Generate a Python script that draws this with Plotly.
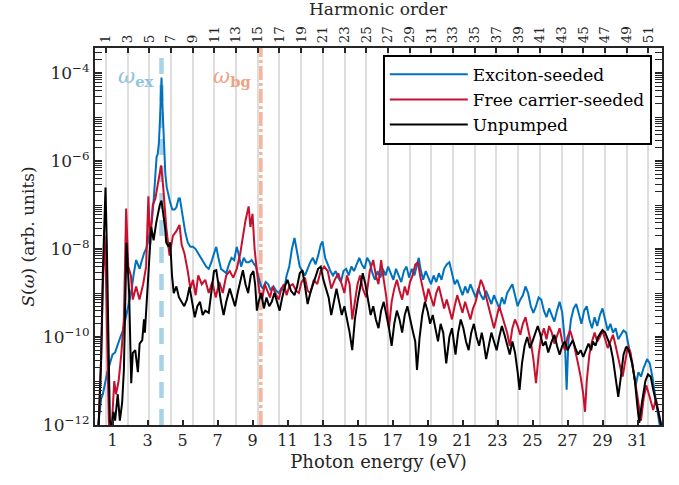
import plotly.graph_objects as go

# ---------------- data (photon energy in eV, log10 of S(omega)) ----------------
exc_E = [0.15,0.25,0.35,0.45,0.55,0.7,0.85,1.0,1.15,1.3,1.45,1.6,1.75,1.9,2.0,2.1,2.2,2.35,2.45,2.55,2.65,2.8,2.92,3.05,3.15,3.25,3.35,3.45,3.52,3.58,3.65,3.72,3.8,3.87,3.95,4.02,4.1,4.2,4.3,4.42,4.55,4.65,4.78,4.85,4.95,5.05,5.15,5.3,5.45,5.6,5.75,5.9,6.05,6.2,6.35,6.5,6.65,6.8,6.93,7.05,7.2,7.35,7.5,7.65,7.8,7.95,8.1,8.2,8.35,8.5,8.65,8.8,8.95,9.1,9.2,9.35,9.5,9.6,9.75,9.9,10.05,10.2,10.35,10.5,10.65,10.8,10.95,11.1,11.25,11.4,11.55,11.7,11.85,12.0,12.15,12.3,12.45,12.6,12.75,12.9,13.0,13.15,13.3,13.45,13.6,13.75,13.9,14.05,14.2,14.35,14.5,14.65,14.8,14.95,15.1,15.25,15.4,15.55,15.7,15.85,16.0,16.15,16.3,16.45,16.6,16.75,16.9,17.05,17.2,17.35,17.5,17.65,17.8,17.95,18.1,18.25,18.4,18.5,18.6,18.75,18.9,19.05,19.2,19.35,19.5,19.65,19.8,19.95,20.1,20.25,20.4,20.55,20.7,20.85,21.0,21.15,21.3,21.45,21.6,21.75,21.9,22.05,22.2,22.35,22.5,22.65,22.8,22.95,23.1,23.25,23.4,23.55,23.7,23.85,24.0,24.15,24.3,24.45,24.6,24.75,24.9,25.05,25.2,25.35,25.5,25.65,25.8,25.95,26.1,26.25,26.4,26.55,26.7,26.85,26.95,27.05,27.2,27.35,27.5,27.65,27.8,27.95,28.1,28.25,28.4,28.55,28.7,28.85,29.0,29.15,29.3,29.45,29.6,29.75,29.9,30.05,30.2,30.35,30.5,30.65,30.8,30.9,31.05,31.2,31.35,31.55,31.7,31.85,32.0,32.15,32.3]
exc_logS = [-12.1,-11.8,-11.4,-11.3,-11.1,-10.8,-10.6,-10.4,-10.35,-10.15,-10.0,-9.85,-9.6,-9.3,-9.1,-8.9,-8.6,-8.25,-8.35,-8.45,-8.3,-8.1,-8.0,-7.8,-7.55,-7.35,-6.9,-6.3,-5.9,-5.85,-5.6,-5.0,-4.1,-4.9,-5.9,-6.3,-6.6,-6.8,-6.95,-7.1,-7.1,-7.05,-6.85,-6.85,-7.1,-7.4,-7.6,-7.85,-7.95,-7.95,-8.0,-8.1,-8.2,-8.3,-8.4,-8.45,-8.3,-8.1,-7.95,-8.2,-8.45,-8.5,-8.55,-8.35,-8.2,-8.25,-7.95,-8.1,-8.4,-8.2,-8.3,-8.3,-8.25,-8.35,-8.4,-8.65,-8.85,-8.9,-8.75,-8.8,-8.95,-8.85,-8.95,-9.0,-8.9,-8.95,-8.6,-8.4,-8.0,-7.75,-8.1,-8.4,-8.5,-8.6,-8.45,-8.3,-8.2,-8.35,-8.15,-7.9,-7.83,-8.2,-8.35,-8.5,-8.6,-8.5,-8.65,-8.75,-8.5,-8.45,-8.6,-8.4,-8.5,-8.35,-8.2,-8.35,-8.45,-8.2,-8.3,-8.55,-8.7,-8.5,-8.65,-8.45,-8.6,-8.4,-8.55,-8.7,-8.45,-8.6,-8.75,-8.5,-8.4,-8.65,-8.45,-8.6,-8.35,-8.2,-8.45,-8.7,-8.5,-8.65,-8.8,-8.6,-8.75,-8.55,-8.7,-8.45,-8.35,-8.3,-8.55,-8.8,-8.7,-8.9,-9.05,-8.85,-9.0,-8.8,-8.95,-9.1,-8.9,-9.05,-9.15,-8.95,-9.1,-9.25,-9.05,-9.2,-9.35,-9.1,-9.25,-9.0,-8.9,-8.8,-9.05,-9.3,-9.15,-9.05,-8.85,-9.0,-9.3,-9.45,-9.3,-9.1,-9.15,-9.4,-9.55,-9.35,-9.5,-9.65,-9.4,-9.2,-9.45,-10.1,-11.2,-10.1,-9.6,-9.35,-9.25,-9.5,-9.7,-9.4,-9.3,-9.6,-9.8,-9.55,-9.75,-9.5,-9.35,-9.6,-9.85,-9.7,-9.9,-9.8,-10.05,-9.95,-9.85,-9.9,-10.2,-10.5,-10.85,-11.1,-10.8,-10.9,-10.7,-10.5,-10.6,-10.9,-11.3,-11.7,-12.1]

free_E = [0.2,0.35,0.45,0.55,0.62,0.7,0.8,0.95,1.1,1.2,1.35,1.5,1.65,1.78,1.9,2.05,2.16,2.35,2.54,2.75,2.92,3.05,3.15,3.3,3.45,3.6,3.78,3.9,4.07,4.26,4.45,4.64,4.83,4.95,5.11,5.3,5.45,5.6,5.75,5.9,6.1,6.3,6.5,6.7,6.9,7.1,7.3,7.5,7.7,7.9,8.1,8.3,8.45,8.6,8.78,8.88,9.0,9.12,9.25,9.4,9.55,9.7,9.85,10.0,10.15,10.3,10.5,10.65,10.8,10.95,11.1,11.3,11.5,11.65,11.8,12.0,12.15,12.3,12.5,12.7,12.9,13.1,13.3,13.5,13.7,13.9,14.1,14.25,14.4,14.55,14.7,14.85,15.0,15.15,15.3,15.5,15.7,15.9,16.05,16.2,16.35,16.5,16.65,16.8,16.95,17.1,17.25,17.4,17.55,17.7,17.85,18.0,18.15,18.3,18.45,18.6,18.75,18.9,19.05,19.2,19.35,19.5,19.65,19.8,19.95,20.1,20.25,20.4,20.55,20.7,20.85,21.0,21.15,21.3,21.45,21.6,21.75,21.9,22.05,22.2,22.35,22.5,22.65,22.8,22.95,23.1,23.25,23.4,23.55,23.7,23.85,24.0,24.15,24.3,24.45,24.6,24.75,24.9,25.05,25.2,25.35,25.5,25.65,25.8,25.95,26.1,26.25,26.4,26.55,26.7,26.85,27.0,27.15,27.3,27.45,27.6,27.75,27.9,28.0,28.1,28.25,28.4,28.55,28.7,28.85,29.0,29.15,29.3,29.45,29.6,29.75,29.9,30.05,30.15,30.3,30.45,30.6,30.75,30.9,31.05,31.2,31.35,31.5,31.65,31.8,31.9,32.05,32.2,32.35]
free_logS = [-12.1,-10.5,-8.8,-7.7,-8.5,-10.5,-12.1,-12.1,-11.0,-11.3,-11.0,-10.4,-9.6,-7.08,-8.4,-8.6,-9.15,-8.85,-9.15,-8.8,-8.4,-6.8,-7.9,-7.0,-6.85,-6.5,-6.1,-6.6,-7.5,-8.15,-7.7,-7.6,-7.45,-7.9,-8.1,-8.5,-8.9,-8.7,-9.05,-8.6,-8.8,-8.7,-9.0,-8.75,-9.1,-8.75,-9.0,-8.6,-8.5,-8.65,-8.45,-8.1,-7.7,-7.35,-7.03,-7.5,-7.2,-8.0,-8.5,-9.0,-9.15,-8.8,-8.95,-9.1,-8.85,-9.0,-9.15,-8.9,-8.8,-9.05,-8.85,-8.8,-8.95,-9.0,-8.75,-8.65,-8.95,-9.0,-8.7,-8.8,-8.5,-8.4,-8.5,-8.9,-8.7,-8.55,-8.8,-9.0,-8.6,-8.8,-9.6,-9.2,-8.8,-8.6,-8.9,-9.1,-8.5,-8.25,-8.6,-8.8,-8.25,-8.7,-9.1,-9.8,-9.2,-8.9,-8.7,-8.95,-9.15,-8.85,-9.05,-8.75,-8.6,-8.35,-8.3,-8.65,-8.95,-9.2,-8.9,-9.1,-9.3,-9.0,-8.85,-9.1,-9.35,-9.15,-9.4,-9.6,-9.3,-9.05,-9.25,-9.45,-9.2,-9.4,-9.6,-9.35,-9.2,-8.95,-8.7,-8.85,-9.1,-9.35,-9.55,-9.8,-9.55,-9.3,-9.5,-9.7,-9.9,-10.2,-9.8,-9.6,-9.75,-9.95,-9.7,-9.55,-9.8,-10.1,-10.5,-11.05,-10.4,-10.0,-9.8,-10.05,-9.75,-9.9,-10.15,-9.95,-9.8,-10.1,-10.3,-10.0,-9.85,-10.05,-10.3,-10.6,-10.9,-11.3,-11.7,-11.0,-10.4,-10.1,-9.9,-10.1,-10.0,-9.85,-10.05,-10.25,-10.1,-9.95,-10.2,-10.5,-10.75,-10.9,-10.5,-10.2,-10.35,-10.7,-11.1,-11.5,-11.9,-11.4,-11.1,-11.3,-11.55,-11.66,-11.4,-11.7,-12.0]

unp_E = [0.2,0.35,0.45,0.55,0.6,0.67,0.75,0.85,0.95,1.05,1.15,1.3,1.42,1.55,1.65,1.8,1.95,2.07,2.16,2.3,2.45,2.55,2.7,2.8,2.85,2.95,3.05,3.15,3.21,3.35,3.5,3.6,3.7,3.8,3.9,4.0,4.07,4.2,4.3,4.4,4.5,4.65,4.8,4.95,5.1,5.25,5.4,5.55,5.7,5.85,6.0,6.15,6.3,6.5,6.65,6.8,6.93,7.05,7.2,7.35,7.5,7.7,7.85,8.0,8.15,8.3,8.45,8.6,8.75,8.9,9.05,9.15,9.25,9.35,9.5,9.65,9.8,9.95,10.1,10.25,10.4,10.55,10.7,10.85,11.0,11.2,11.4,11.55,11.7,11.85,12.0,12.15,12.3,12.45,12.6,12.75,12.9,13.05,13.2,13.35,13.5,13.65,13.8,13.95,14.1,14.25,14.4,14.55,14.7,14.85,15.0,15.15,15.3,15.45,15.6,15.75,15.9,16.05,16.2,16.35,16.5,16.65,16.8,16.95,17.1,17.25,17.4,17.55,17.7,17.85,18.0,18.15,18.3,18.4,18.55,18.7,18.85,19.0,19.15,19.3,19.45,19.6,19.75,19.9,20.07,20.25,20.4,20.6,20.75,20.9,21.05,21.2,21.35,21.5,21.65,21.8,21.95,22.1,22.2,22.35,22.5,22.65,22.8,22.95,23.1,23.25,23.4,23.55,23.7,23.85,24.0,24.15,24.26,24.4,24.55,24.7,24.85,25.0,25.15,25.3,25.45,25.6,25.75,25.9,26.1,26.25,26.4,26.55,26.7,26.85,27.0,27.15,27.3,27.45,27.6,27.75,27.9,28.05,28.2,28.35,28.45,28.6,28.75,28.9,29.0,29.15,29.3,29.45,29.6,29.75,29.9,30.05,30.2,30.35,30.5,30.7,30.85,31.0,31.1,31.25,31.45,31.6,31.75,31.9,32.05,32.2,32.35]
unp_logS = [-12.1,-10.5,-8.5,-7.0,-6.6,-7.8,-10.0,-11.9,-12.1,-11.7,-11.9,-11.3,-11.9,-11.5,-10.75,-7.86,-9.0,-11.05,-10.36,-10.3,-10.8,-10.15,-10.07,-9.6,-9.9,-9.2,-8.3,-7.9,-7.5,-7.8,-7.4,-7.2,-7.0,-6.9,-7.2,-7.5,-7.85,-7.95,-7.85,-8.6,-9.0,-8.85,-9.1,-9.2,-9.3,-9.15,-8.86,-9.2,-9.55,-9.3,-9.2,-9.5,-9.4,-9.45,-9.0,-8.5,-8.48,-8.85,-9.2,-9.5,-9.2,-8.9,-9.1,-9.3,-9.0,-8.7,-8.48,-8.8,-9.0,-8.6,-8.5,-8.8,-9.4,-9.2,-9.0,-9.35,-9.1,-9.3,-9.2,-9.0,-9.2,-9.4,-9.1,-8.85,-8.7,-8.95,-9.05,-8.85,-8.55,-8.48,-8.85,-9.25,-9.0,-8.8,-8.6,-8.45,-8.4,-8.7,-8.9,-9.1,-9.5,-9.2,-8.9,-9.2,-9.5,-9.3,-9.6,-9.9,-10.3,-9.6,-9.2,-8.9,-8.55,-8.8,-9.2,-9.5,-9.3,-9.6,-9.8,-9.4,-9.2,-9.5,-9.8,-10.2,-9.7,-9.4,-9.6,-9.9,-9.5,-9.3,-9.6,-9.85,-10.1,-10.75,-10.0,-9.5,-9.2,-9.4,-9.7,-9.5,-9.8,-10.1,-9.7,-9.9,-10.6,-10.0,-9.8,-10.4,-9.9,-9.6,-9.8,-10.1,-10.3,-9.9,-9.7,-10.0,-10.2,-9.9,-10.1,-10.5,-10.2,-9.9,-10.1,-10.3,-10.0,-9.75,-9.95,-10.2,-10.4,-10.1,-10.35,-10.8,-11.2,-10.6,-10.2,-10.0,-10.25,-10.1,-9.9,-9.75,-9.95,-10.2,-10.1,-10.35,-10.1,-9.95,-10.2,-10.4,-10.2,-10.1,-10.3,-10.2,-10.07,-10.25,-10.4,-10.3,-10.45,-10.3,-10.15,-10.3,-10.1,-10.2,-10.0,-9.9,-9.84,-9.9,-10.05,-10.2,-10.5,-10.9,-11.36,-10.9,-10.4,-10.22,-10.3,-10.6,-11.0,-11.6,-11.95,-11.5,-11.0,-10.85,-10.9,-11.2,-11.5,-11.73,-12.0]

series_names = ["Exciton-seeded", "Free carrier-seeded", "Unpumped"]
series_colors = ["#0072BD", "#C8102E", "#000000"]

harmonic_orders = list(range(1, 52, 2))
omega0 = 0.62          # eV, fundamental photon energy
omega_ex = 3.8         # eV
omega_bg = 9.45        # eV
energy_ticks = list(range(1, 32, 2))

FONT = "DejaVu Serif"
AX = "#262626"

fig = go.Figure()
for E, L, name, col in zip([exc_E, free_E, unp_E], [exc_logS, free_logS, unp_logS],
                           series_names, series_colors):
    fig.add_trace(go.Scatter(x=E, y=[10 ** v for v in L], mode="lines", name=name,
                             line=dict(color=col, width=2), xaxis="x", yaxis="y"))
# invisible trace to anchor the top (harmonic order) axis
fig.add_trace(go.Scatter(x=[0, 32.4], y=[1e-12, 1e-12], mode="lines", xaxis="x2", yaxis="y",
                         line=dict(width=0), showlegend=False, hoverinfo="skip"))

# vertical marker lines
fig.add_shape(type="line", xref="x", yref="paper", x0=omega_ex, x1=omega_ex, y0=0, y1=1,
              line=dict(color="#A8D2E6", width=4.5, dash="16px,11px"), layer="below")
fig.add_shape(type="line", xref="x", yref="paper", x0=omega_bg, x1=omega_bg, y0=0, y1=1,
              line=dict(color="#F4B69C", width=4.5, dash="14px,3px,3px,3px"), layer="below")

fig.add_annotation(x=2.3, y=-4.1, xref="x", yref="y", showarrow=False,
                   text="<i>ω</i><sub><b>ex</b></sub>",
                   font=dict(family=FONT, size=21, color="#8EC3DF"))
fig.add_annotation(x=7.85, y=-4.1, xref="x", yref="y", showarrow=False,
                   text="<i>ω</i><sub><b>bg</b></sub>",
                   font=dict(family=FONT, size=21, color="#F0A384"))
# top-axis title
fig.add_annotation(x=0.5, y=1.103, xref="paper", yref="paper", showarrow=False,
                   yanchor="middle", text="Harmonic order",
                   font=dict(family=FONT, size=17, color="#262626"))

major_y = [10.0 ** d for d in range(-12, -3, 2)]
major_txt = ["10<sup>−%d</sup>" % (-d) for d in range(-12, -3, 2)]
minor_y = [k * 10.0 ** d for d in range(-12, -3) for k in range(1, 10)
           if not (k == 1 and d % 2 == 0)]

fig.update_layout(
    width=679, height=485,
    margin=dict(l=95, r=17, t=48, b=60),
    paper_bgcolor="white", plot_bgcolor="white",
    font=dict(family=FONT, size=17, color="#262626"),
    showlegend=True,
    legend=dict(x=0.982, y=0.982, xanchor="right", yanchor="top",
                bgcolor="white", bordercolor="#000000", borderwidth=2,
                font=dict(family=FONT, size=17, color="#000000"),
                itemwidth=78, tracegroupgap=0),
    xaxis=dict(range=[0, 32.4], tickmode="array", tickvals=energy_ticks,
               ticktext=[str(v) for v in energy_ticks],
               ticks="inside", ticklen=5, tickwidth=1.5, tickcolor=AX,
               showline=True, linecolor=AX, linewidth=2, mirror=False,
               showgrid=False, zeroline=False,
               tickfont=dict(family=FONT, size=16, color="#262626"),
               title=dict(text="Photon energy (eV)", standoff=6,
                          font=dict(family=FONT, size=18, color="#262626"))),
    xaxis2=dict(range=[0, 32.4], overlaying="x", side="top", anchor="y",
                tickmode="array", tickvals=[n * omega0 for n in harmonic_orders],
                ticktext=[str(n) for n in harmonic_orders], tickangle=-90,
                ticks="inside", ticklen=5, tickwidth=1.5, tickcolor=AX,
                showline=True, linecolor=AX, linewidth=2,
                showgrid=True, gridcolor="#DEDEDE", gridwidth=2.2, zeroline=False,
                tickfont=dict(family=FONT, size=13.5, color="#262626")),
    yaxis=dict(type="log", range=[-12, -3.43], tickmode="array", tickvals=major_y,
               ticktext=major_txt, ticks="inside", ticklen=7, tickwidth=1.5, tickcolor=AX,
               showline=True, linecolor=AX, linewidth=2, mirror="allticks",
               showgrid=False, zeroline=False,
               minor=dict(tickmode="array", tickvals=minor_y, ticks="inside",
                          ticklen=4, tickwidth=1, tickcolor=AX, showgrid=False),
               tickfont=dict(family=FONT, size=17, color="#262626"),
               title=dict(text="<i>S</i>(<i>ω</i>) (arb. units)", standoff=4,
                          font=dict(family=FONT, size=17, color="#262626"))),
)

fig.write_html("out.html")
